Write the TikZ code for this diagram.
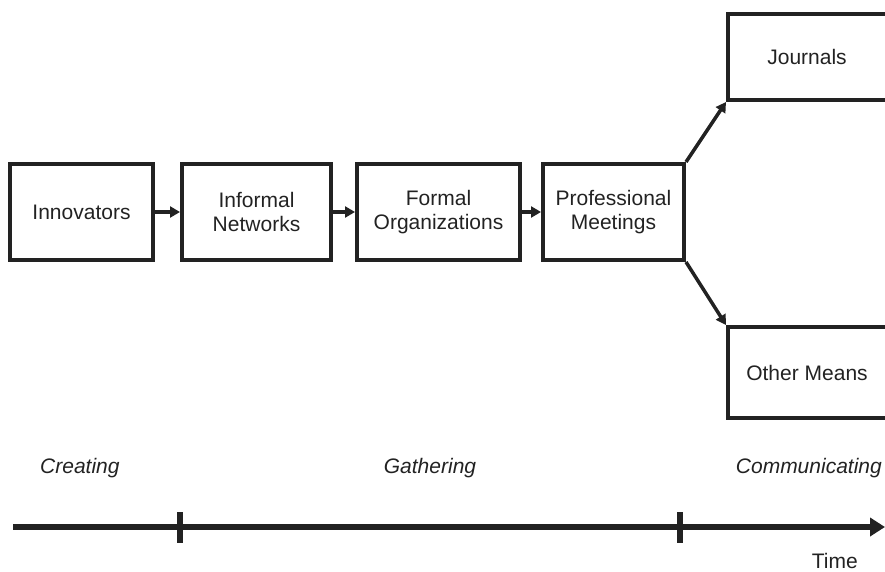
\documentclass[tikz,border=0pt]{standalone}
\usepackage{fontspec}
\setmainfont{Liberation Sans}
\usetikzlibrary{arrows.meta}
\definecolor{ink}{HTML}{222222}
\begin{document}
\begin{tikzpicture}[x=1pt,y=-1pt,
  box/.style={draw=ink,line width=4pt,rectangle,inner sep=0pt,align=center,
    font=\fontsize{21}{23.5}\selectfont,text=ink},
  flow/.style={draw=ink,line width=3.5pt,-{Triangle[length=10pt,width=11pt]}},
  phase/.style={font=\fontsize{21}{23.5}\selectfont\itshape,text=ink,inner sep=0pt},
  tick/.style={draw=ink,line width=5.5pt}]
\useasboundingbox (0,0) rectangle (885,572);
\node[box,minimum width=143pt,minimum height=96pt] (inn) at (81.5,212) {Innovators};
\node[box,minimum width=149pt,minimum height=96pt] (inf) at (256.5,212) {Informal\\Networks};
\node[box,minimum width=163pt,minimum height=96pt] (for) at (438.5,212) {Formal\\Organizations};
\node[box,minimum width=141pt,minimum height=96pt] (pro) at (613.5,212) {Professional\\Meetings};
\node[box,minimum width=170pt,minimum height=86pt,anchor=north west] (jou) at (726,12) {\hspace*{-12pt}Journals};
\node[box,minimum width=170pt,minimum height=91pt,anchor=north west] (oth) at (726,325) {\hspace*{-12pt}Other Means};
\draw[flow] (inn.east) -- (inf.west);
\draw[flow] (inf.east) -- (for.west);
\draw[flow] (for.east) -- (pro.west);
\draw[flow] (pro.north east) -- (jou.south west);
\draw[flow] (pro.south east) -- (oth.north west);
\node[phase,anchor=base west] (cre) at (40,473) {Creating};
\node[phase,anchor=base] (gat) at (430,473) {Gathering};
\node[phase,anchor=base east] (com) at (882,473) {Communicating};
\node[font=\fontsize{21}{23.5}\selectfont,text=ink,inner sep=0pt,anchor=base east] (tim) at (858,568) {Time};
\coordinate (t0) at (13,527);
\coordinate (t1) at (885,527);
\draw[draw=ink,line width=5.5pt,-{Triangle[length=15pt,width=18pt]}] (t0) -- (t1);
\coordinate (a1) at (180,512);
\coordinate (a2) at (180,543);
\coordinate (b1) at (680,512);
\coordinate (b2) at (680,543);
\draw[tick] (a1) -- (a2);
\draw[tick] (b1) -- (b2);
\end{tikzpicture}
\end{document}
